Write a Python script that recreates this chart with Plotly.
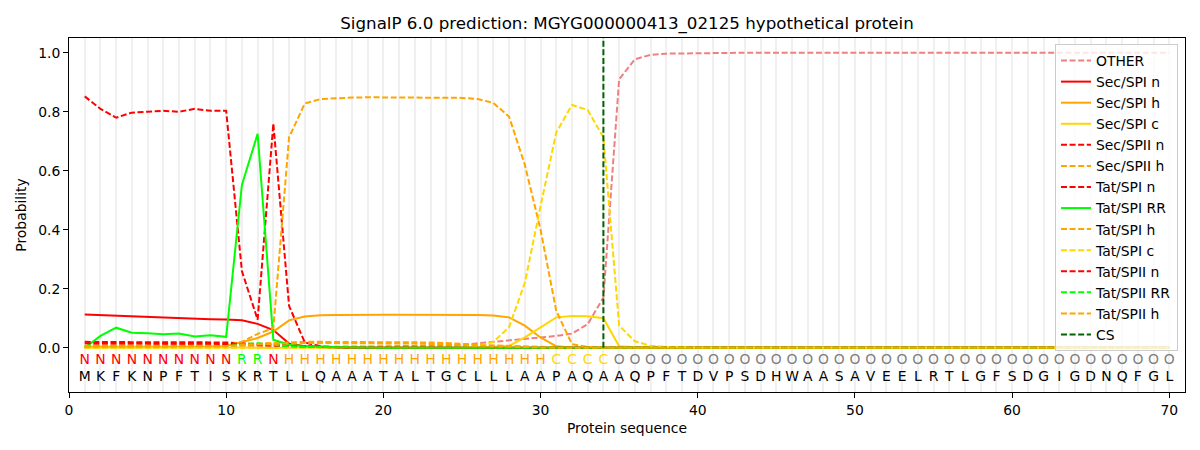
import plotly.graph_objects as go

# residues and per-position region labels
sequence = list("MKFKNPFTISKRTLLQAAATALTGCLLLAAPAQAAQPFTDVPSDHWAASAVEELRTLGFSDGIGDNQFGL")
regions = list("NNNNNNNNNNRRN" + "H" * 17 + "CCCC" + "O" * 36)
positions = list(range(1, 71))
cs_pos = 34

zeros_tail = lambda n: [0.0] * n

other = ([0.002] * 10 + [0.002, 0.002, 0.002, 0.002, 0.003, 0.003, 0.003, 0.004, 0.004, 0.005,
         0.005, 0.006, 0.006, 0.007, 0.01, 0.015, 0.022, 0.027, 0.03, 0.035,
         0.04, 0.048, 0.08, 0.17, 0.91, 0.978, 0.993, 0.997, 0.998, 0.999] + [1.0] * 30)
sec_spi_n = ([0.113, 0.111, 0.107, 0.105, 0.103, 0.101, 0.100, 0.099, 0.097, 0.096,
             0.093, 0.081, 0.06, 0.014, 0.005, 0.002] + zeros_tail(54))
sec_spi_h = ([0.003, 0.003, 0.003, 0.003, 0.003, 0.003, 0.004, 0.004, 0.004, 0.006,
             0.02, 0.033, 0.055, 0.093, 0.106, 0.110, 0.111, 0.112, 0.112, 0.112,
             0.112, 0.112, 0.112, 0.112, 0.112, 0.111, 0.109, 0.103, 0.075, 0.035,
             0.005, 0.001] + zeros_tail(38))
sec_spi_c = (zeros_tail(25) + [0.001, 0.003, 0.006, 0.035, 0.07, 0.103, 0.108, 0.107, 0.1,
                              0.005, 0.002] + zeros_tail(34))
sec_spii_n = ([0.02, 0.019, 0.019, 0.019, 0.019, 0.019, 0.019, 0.019, 0.019, 0.018,
              0.015, 0.012, 0.012, 0.008, 0.005, 0.003, 0.002, 0.001] + zeros_tail(52))
sec_spii_h = ([0.008, 0.008, 0.008, 0.008, 0.008, 0.008, 0.008, 0.008, 0.008, 0.009,
              0.012, 0.014, 0.016, 0.019, 0.02, 0.02, 0.02, 0.02, 0.02, 0.02,
              0.02, 0.019, 0.018, 0.016, 0.012, 0.01, 0.008, 0.006, 0.004, 0.002,
              0.001] + zeros_tail(39))
tat_spi_n = ([0.852, 0.81, 0.78, 0.797, 0.8, 0.803, 0.8, 0.81, 0.803, 0.803,
             0.26, 0.095, 0.76, 0.142, 0.018, 0.005, 0.002] + zeros_tail(53))
tat_spi_rr = ([0.0, 0.04, 0.068, 0.051, 0.049, 0.046, 0.048, 0.038, 0.042, 0.037,
              0.552, 0.725, 0.027, 0.01, 0.005, 0.003, 0.002, 0.001] + zeros_tail(52))
tat_spi_h = ([0.004, 0.004, 0.004, 0.004, 0.004, 0.004, 0.005, 0.005, 0.005, 0.008,
             0.02, 0.047, 0.066, 0.713, 0.828, 0.843, 0.846, 0.848, 0.849, 0.849,
             0.849, 0.849, 0.849, 0.848, 0.847, 0.843, 0.83, 0.783, 0.62, 0.40,
             0.125, 0.012, 0.003, 0.001] + zeros_tail(36))
tat_spi_c = (zeros_tail(25) + [0.005, 0.02, 0.07, 0.22, 0.48, 0.73, 0.823, 0.806, 0.713,
                              0.075, 0.022, 0.007, 0.003, 0.001] + zeros_tail(31))
tat_spii_n = ([0.015, 0.014, 0.014, 0.014, 0.014, 0.014, 0.014, 0.014, 0.014, 0.013,
              0.011, 0.01, 0.009, 0.006, 0.004, 0.002, 0.001] + zeros_tail(53))
tat_spii_rr = ([0.004, 0.004, 0.004, 0.004, 0.004, 0.004, 0.004, 0.004, 0.004, 0.005,
               0.012, 0.015, 0.01, 0.005, 0.003, 0.002, 0.001] + zeros_tail(53))
tat_spii_h = ([0.005, 0.005, 0.005, 0.005, 0.005, 0.005, 0.005, 0.005, 0.005, 0.006,
              0.009, 0.011, 0.013, 0.015, 0.016, 0.016, 0.016, 0.016, 0.016, 0.016,
              0.015, 0.014, 0.013, 0.011, 0.009, 0.007, 0.005, 0.003, 0.002, 0.001] + zeros_tail(40))

series = [
    ("OTHER", other, "#f08080", "dash"),
    ("Sec/SPI n", sec_spi_n, "#ff0000", "solid"),
    ("Sec/SPI h", sec_spi_h, "#ffa500", "solid"),
    ("Sec/SPI c", sec_spi_c, "#ffd700", "solid"),
    ("Sec/SPII n", sec_spii_n, "#ff0000", "dash"),
    ("Sec/SPII h", sec_spii_h, "#ffa500", "dash"),
    ("Tat/SPI n", tat_spi_n, "#ff0000", "dash"),
    ("Tat/SPI RR", tat_spi_rr, "#00ff00", "solid"),
    ("Tat/SPI h", tat_spi_h, "#ffa500", "dash"),
    ("Tat/SPI c", tat_spi_c, "#ffd700", "dash"),
    ("Tat/SPII n", tat_spii_n, "#ff0000", "dash"),
    ("Tat/SPII RR", tat_spii_rr, "#00ff00", "dash"),
    ("Tat/SPII h", tat_spii_h, "#ffa500", "dash"),
]

region_colors = {"N": "#ff0000", "R": "#00ff00", "H": "#ffa500", "C": "#ffd700", "O": "#808080"}
FONT = "DejaVu Sans"
FS = 13.9
MPL_DASH = "6px,2.6px"
# the page body has an 8px margin, so the figure margins are shifted to compensate
OFF = 8

fig = go.Figure()

for name, vals, color, style in series:
    fig.add_trace(go.Scatter(
        x=positions, y=vals, name=name, mode="lines",
        line=dict(color=color, width=2, dash=MPL_DASH if style == "dash" else "solid"),
    ))

# cleavage site
fig.add_trace(go.Scatter(
    x=[cs_pos, cs_pos], y=[0, 1.05], name="CS", mode="lines",
    line=dict(color="#006400", width=2, dash=MPL_DASH),
))

# region labels and residues under the curves
fig.add_trace(go.Scatter(
    x=positions, y=[-0.045] * len(positions), mode="text", text=regions,
    textfont=dict(family=FONT, size=FS, color=[region_colors[r] for r in regions]),
    showlegend=False, hoverinfo="skip",
))
fig.add_trace(go.Scatter(
    x=positions, y=[-0.1] * len(positions), mode="text", text=sequence,
    textfont=dict(family=FONT, size=FS, color="black"),
    showlegend=False, hoverinfo="skip",
))

fig.update_layout(
    width=1200, height=450,
    margin=dict(l=67 - OFF, r=15 + OFF, t=38 - OFF, b=58 + OFF),
    paper_bgcolor="white", plot_bgcolor="white",
    font=dict(family=FONT, size=FS, color="black"),
    title=dict(text="SignalP 6.0 prediction: MGYG000000413_02125 hypothetical protein",
               x=0.5, xref="paper", y=1 - (23 - OFF) / 450, yref="container",
               xanchor="center", yanchor="middle", font=dict(size=16.7)),
    legend=dict(x=0.9937, y=0.983, xanchor="right", yanchor="top",
                bgcolor="rgba(255,255,255,0.8)", bordercolor="#cccccc", borderwidth=1,
                font=dict(size=FS)),
    showlegend=True,
)

fig.update_xaxes(
    range=[0, 71], tickmode="array", tickvals=[0, 10, 20, 30, 40, 50, 60, 70],
    ticks="outside", ticklen=5, tickcolor="black", tickfont=dict(size=FS),
    showline=True, linecolor="black", linewidth=1, mirror=True,
    showgrid=True, gridcolor="#f0f0f0", gridwidth=1.5, zeroline=False,
    minor=dict(dtick=1, tick0=0, showgrid=True, gridcolor="#f0f0f0", gridwidth=1.5),
    title=dict(text="Protein sequence", standoff=6, font=dict(size=FS)),
)
fig.update_yaxes(
    range=[-0.15, 1.05], tickmode="array", tickvals=[0, 0.2, 0.4, 0.6, 0.8, 1.0],
    tickformat=".1f", ticks="outside", ticklen=5, tickcolor="black", tickfont=dict(size=FS),
    showline=True, linecolor="black", linewidth=1, mirror=True,
    showgrid=False, zeroline=False,
    title=dict(text="Probability", standoff=8, font=dict(size=FS)),
)

fig.write_html("out.html")
